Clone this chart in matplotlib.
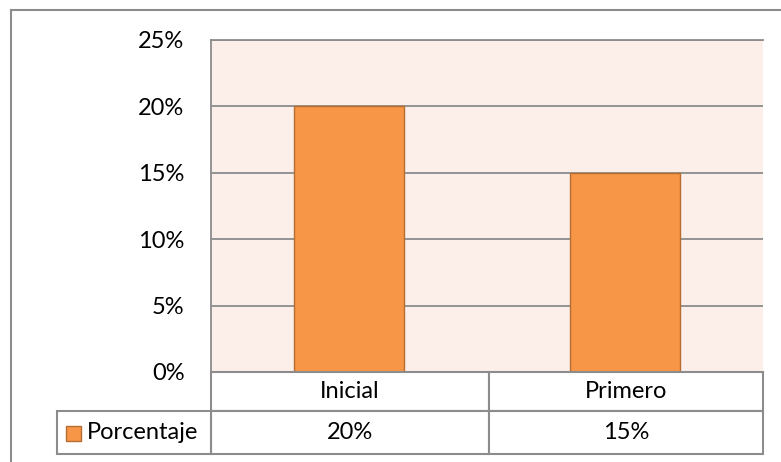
import matplotlib.pyplot as plt
from matplotlib.patches import Rectangle
from matplotlib.lines import Line2D

# Данные с графика
categories = ['Inicial', 'Primero']
values = [0.20, 0.15]
series_name = 'Porcentaje'
y_ticks = [0, 0.05, 0.10, 0.15, 0.20, 0.25]

W, H = 781, 462
bar_color = '#F79646'
bar_edge = '#B66D31'
bg_color = '#FCEEE9'
line_color = '#8C8C8C'
fs = 17

plt.rcParams['font.family'] = ['Lato', 'DejaVu Sans']

fig = plt.figure(figsize=(W / 100, H / 100), dpi=100)


def fx(x):
    return x / W


def fy(y):
    return 1 - y / H


# Рамка всей диаграммы
fig.add_artist(Line2D([fx(11), 1], [fy(10), fy(10)], color=line_color, lw=1.5))
fig.add_artist(Line2D([fx(11), fx(11)], [fy(10), 0], color=line_color, lw=1.5))

left, right, top, bottom = 211, 763, 40, 372
ax = fig.add_axes([fx(left), fy(bottom), fx(right - left), (bottom - top) / H])
ax.set_facecolor(bg_color)

x = range(len(categories))
ax.bar(x, values, width=0.4, color=bar_color, edgecolor=bar_edge, linewidth=1, zorder=3)
ax.set_xlim(-0.5, len(categories) - 0.5)
ax.set_ylim(0, 0.25)
ax.set_yticks(y_ticks)
ax.set_yticklabels([f'{int(round(t * 100))}%' for t in y_ticks], fontsize=fs)
ax.tick_params(axis='y', length=0, pad=19)
ax.set_xticks([])
ax.grid(axis='y', color=line_color, linewidth=1.3, zorder=1)
ax.set_axisbelow(True)
for side in ['right', 'bottom']:
    ax.spines[side].set_visible(False)
ax.spines['top'].set_color(line_color)
ax.spines['top'].set_linewidth(1.3)
ax.spines['left'].set_color(line_color)
ax.spines['left'].set_linewidth(1.3)

# Таблица данных под графиком
col_edges = [211, 489, 763]
row1 = (372, 411)
row2 = (411, 454)
label_left = 57


def cell(x0, x1, y0, y1):
    fig.add_artist(Rectangle((fx(x0), fy(y1)), fx(x1 - x0), (y1 - y0) / H,
                             facecolor='white', edgecolor=line_color, lw=1.5))


for i, cat in enumerate(categories):
    x0, x1 = col_edges[i], col_edges[i + 1]
    cell(x0, x1, *row1)
    cell(x0, x1, *row2)
    fig.text(fx((x0 + x1) / 2), fy(sum(row1) / 2), cat, ha='center', va='center', fontsize=fs)
    fig.text(fx((x0 + x1) / 2), fy(sum(row2) / 2), f'{int(round(values[i] * 100))}%',
             ha='center', va='center', fontsize=fs)

cell(label_left, col_edges[0], *row2)
fig.add_artist(Rectangle((fx(66), fy(441)), fx(15), 15 / H,
                         facecolor=bar_color, edgecolor=bar_edge, lw=1))
fig.text(fx(87), fy(sum(row2) / 2), series_name, ha='left', va='center', fontsize=fs)

fig.savefig('out.png', dpi=100)
